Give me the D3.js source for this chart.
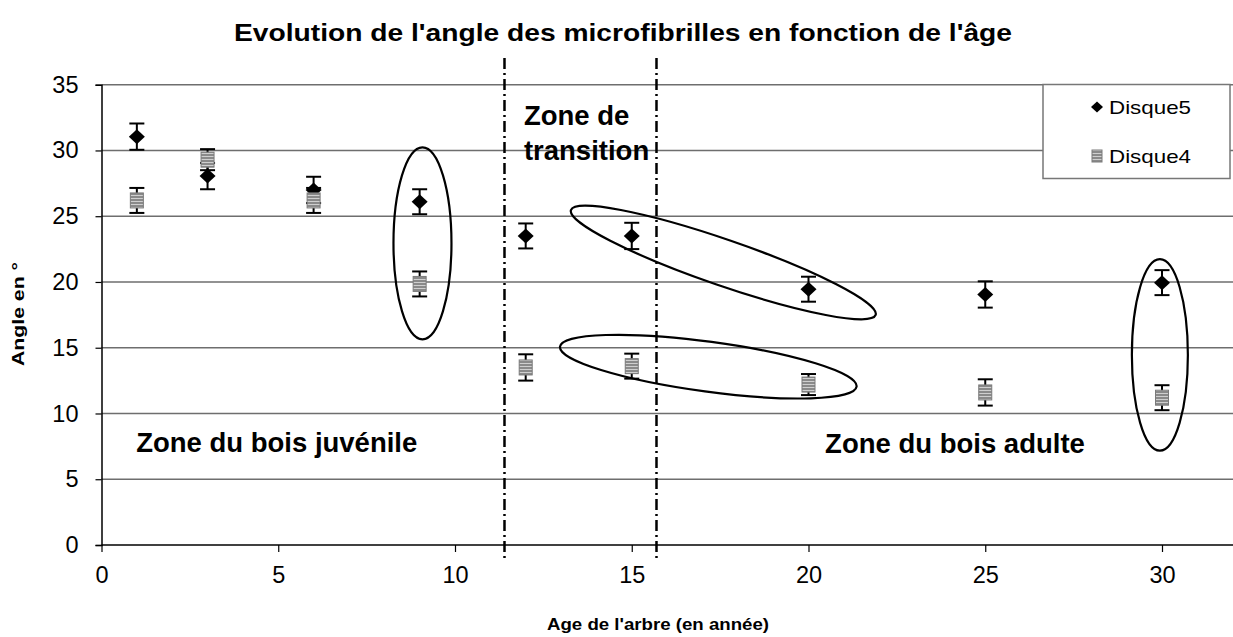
<!DOCTYPE html>
<html>
<head>
<meta charset="utf-8">
<script src="https://d3js.org/d3.v7.min.js"></script>
<style>
body{margin:0;background:#fff;}
svg text{font-family:"Liberation Sans",Arial,sans-serif;fill:#000;}
</style>
</head>
<body>
<div id="chart"></div>
<script>
// values
var ages = [1, 3, 6, 9, 12, 15, 20, 25, 30];
var disque5 = [31.05, 28.05, 27.0, 26.1, 23.5, 23.5, 19.45, 19.05, 19.95];
var disque5Err = [1.0, 1.0, 1.0, 0.95, 0.95, 1.0, 0.95, 1.0, 0.95];
var disque4 = [26.2, 29.3, 26.2, 19.85, 13.5, 13.6, 12.2, 11.6, 11.2];
var disque4Err = [0.95, 0.8, 0.95, 0.95, 1.0, 0.95, 0.8, 1.0, 0.95];
var seriesNames = ["Disque5", "Disque4"];
var xTicks = [0, 5, 10, 15, 20, 25, 30];
var yTicks = [0, 5, 10, 15, 20, 25, 30, 35];
var zoneBounds = [11.4, 15.7];
// ellipses: ends of the long axis in data units
var ellipseEnds = [
  [[9.08, 30.24], [9.08, 15.64]],
  [[13.28, 25.47], [21.9, 17.49]],
  [[12.97, 15.08], [21.36, 12.04]],
  [[29.94, 21.73], [29.94, 7.17]]
];
var zoneLabels = [
  {lines: ["Zone du bois juvénile"], x: 0.98, y: 7.1},
  {lines: ["Zone du bois adulte"], x: 20.47, y: 6.97},
  {lines: ["Zone de", "transition"], x: 11.95, y: 31.94}
];

var W = 1233, H = 637;
var svg = d3.select("#chart").append("svg")
  .attr("width", W).attr("height", H);

var defs = svg.append("defs");
var pat = defs.append("pattern").attr("id", "stripes")
  .attr("patternUnits", "userSpaceOnUse")
  .attr("width", 4).attr("height", 3);
pat.append("rect").attr("width", 4).attr("height", 3).attr("fill", "#8a8a8a");
pat.append("rect").attr("width", 4).attr("height", 1).attr("fill", "#cfcfcf");

var x = d3.scaleLinear().domain([0, 32]).range([101.5, 1232.7]);
var y = d3.scaleLinear().domain([0, 35]).range([545, 84.7]);

// title
svg.append("text")
  .attr("x", 623).attr("y", 41)
  .attr("text-anchor", "middle")
  .attr("font-size", 24.5).attr("font-weight", "bold")
  .attr("textLength", 778).attr("lengthAdjust", "spacingAndGlyphs")
  .text("Evolution de l'angle des microfibrilles en fonction de l'âge");

// gridlines
svg.append("g").selectAll("line").data(yTicks.filter(function(d){ return d > 0; }))
  .enter().append("line")
  .attr("x1", x(0)).attr("x2", W)
  .attr("y1", function(d){ return y(d); }).attr("y2", function(d){ return y(d); })
  .attr("stroke", "#6e6e6e").attr("stroke-width", 1.5);

// axes
var yAxis = svg.append("g").attr("transform", "translate(" + x(0) + ",0)")
  .call(d3.axisLeft(y).tickValues(yTicks).tickSize(6).tickPadding(17));
var xAxis = svg.append("g").attr("transform", "translate(0," + y(0) + ")")
  .call(d3.axisBottom(x).tickValues(xTicks).tickSize(7).tickPadding(14));
[xAxis, yAxis].forEach(function(a){
  a.select(".domain").attr("stroke", "#000").attr("stroke-width", 1.5);
  a.selectAll(".tick line").attr("stroke", "#000").attr("stroke-width", 1.2);
  a.selectAll(".tick text").attr("font-size", 23.5)
    .style("font-family", "'Liberation Sans',Arial,sans-serif").attr("fill", "#000");
});
xAxis.select(".domain").attr("d", "M" + x(0) + ",0H" + W);

// axis titles
svg.append("text")
  .attr("x", 658).attr("y", 630)
  .attr("text-anchor", "middle")
  .attr("font-size", 17).attr("font-weight", "bold")
  .attr("textLength", 222).attr("lengthAdjust", "spacingAndGlyphs")
  .text("Age de l'arbre (en année)");
svg.append("text")
  .attr("transform", "translate(24,314) rotate(-90)")
  .attr("text-anchor", "middle")
  .attr("font-size", 16.5).attr("font-weight", "bold")
  .attr("textLength", 104).attr("lengthAdjust", "spacingAndGlyphs")
  .text("Angle en °");

// zone boundaries (dash-dot)
svg.append("g").selectAll("line").data(zoneBounds).enter().append("line")
  .attr("x1", function(d){ return x(d); }).attr("x2", function(d){ return x(d); })
  .attr("y1", 58).attr("y2", 562)
  .attr("stroke", "#000").attr("stroke-width", 2.5)
  .attr("stroke-dasharray", "11,4,2,4");

// zone labels
zoneLabels.forEach(function(z){
  var t = svg.append("text")
    .attr("x", x(z.x)).attr("y", y(z.y))
    .attr("font-size", 27.5).attr("font-weight", "bold");
  z.lines.forEach(function(line, i){
    t.append("tspan").attr("x", x(z.x)).attr("dy", i === 0 ? 0 : 35).text(line);
  });
});

// ellipses
var minorRadius = [29, 23, 25, 28];
svg.append("g").selectAll("ellipse").data(ellipseEnds).enter().append("ellipse")
  .each(function(d, i){
    var x0 = x(d[0][0]), y0 = y(d[0][1]), x1 = x(d[1][0]), y1 = y(d[1][1]);
    var cx = (x0 + x1) / 2, cy = (y0 + y1) / 2;
    var len = Math.hypot(x1 - x0, y1 - y0) / 2;
    var ang = Math.atan2(y1 - y0, x1 - x0) * 180 / Math.PI;
    d3.select(this)
      .attr("cx", 0).attr("cy", 0)
      .attr("rx", len).attr("ry", minorRadius[i])
      .attr("transform", "translate(" + cx + "," + cy + ") rotate(" + ang + ")");
  })
  .attr("fill", "none").attr("stroke", "#000").attr("stroke-width", 2.2);

// series
function diamondPath(r) {
  return "M0," + (-r) + "L" + (r + 0.5) + ",0L0," + r + "L" + (-r - 0.5) + ",0Z";
}
function drawSeries(vals, errs, isSquare) {
  var g = svg.append("g");
  var eb = g.selectAll("g.eb").data(ages).enter().append("g");
  eb.append("line")
    .attr("x1", function(d){ return x(d); }).attr("x2", function(d){ return x(d); })
    .attr("y1", function(d, i){ return y(vals[i] + errs[i]); })
    .attr("y2", function(d, i){ return y(vals[i] - errs[i]); })
    .attr("stroke", "#000").attr("stroke-width", 2);
  [1, -1].forEach(function(s){
    eb.append("line")
      .attr("x1", function(d){ return x(d) - 7.5; }).attr("x2", function(d){ return x(d) + 7.5; })
      .attr("y1", function(d, i){ return y(vals[i] + s * errs[i]); })
      .attr("y2", function(d, i){ return y(vals[i] + s * errs[i]); })
      .attr("stroke", "#000").attr("stroke-width", 2);
  });
  if (isSquare) {
    g.selectAll("rect.m").data(ages).enter().append("rect")
      .attr("x", function(d){ return x(d) - 6.5; })
      .attr("y", function(d, i){ return y(vals[i]) - 7.5; })
      .attr("width", 13).attr("height", 15)
      .attr("fill", "url(#stripes)").attr("stroke", "#7a7a7a").attr("stroke-width", 1);
  } else {
    g.selectAll("path.m").data(ages).enter().append("path")
      .attr("d", diamondPath(7.5))
      .attr("transform", function(d, i){ return "translate(" + x(d) + "," + y(vals[i]) + ")"; })
      .attr("fill", "#000");
  }
}
drawSeries(disque5, disque5Err, false);
drawSeries(disque4, disque4Err, true);

// legend
var lg = svg.append("g");
lg.append("rect").attr("x", 1043).attr("y", 84.5).attr("width", 187).attr("height", 94)
  .attr("fill", "#fff").attr("stroke", "#777").attr("stroke-width", 1.5);
seriesNames.forEach(function(name, i){
  var ly = 107 + i * 49;
  if (i === 0) {
    lg.append("path").attr("d", diamondPath(5.5))
      .attr("transform", "translate(1097," + ly + ")").attr("fill", "#000");
  } else {
    lg.append("rect").attr("x", 1092).attr("y", ly - 6).attr("width", 10).attr("height", 12)
      .attr("fill", "url(#stripes)").attr("stroke", "#7a7a7a").attr("stroke-width", 1);
  }
  lg.append("text").attr("x", 1109).attr("y", ly + 7)
    .attr("font-size", 19)
    .attr("textLength", 82).attr("lengthAdjust", "spacingAndGlyphs")
    .text(name);
});
</script>
</body>
</html>
